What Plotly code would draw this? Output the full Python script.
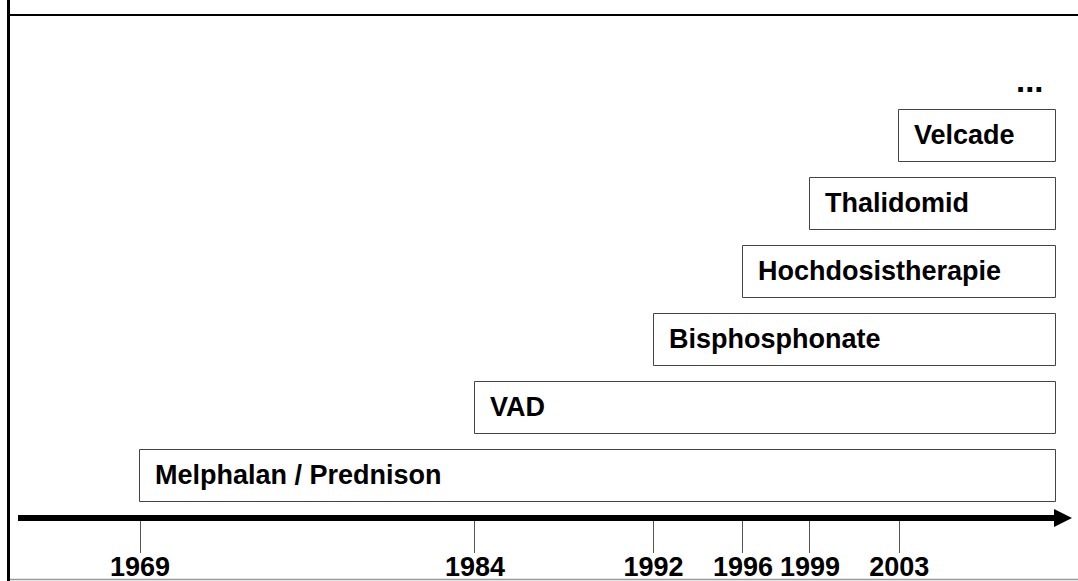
import plotly.graph_objects as go

# ---- data ----
therapies = ["Melphalan / Prednison", "VAD", "Bisphosphonate",
             "Hochdosistherapie", "Thalidomid", "Velcade"]
start_years = [1969, 1984, 1992, 1996, 1999, 2003]
end_year = 2010
tick_years = [1969, 1984, 1992, 1996, 1999, 2003]
tick_labels = [str(y) for y in tick_years]

# ---- layout geometry (pixels) ----
W, H = 1078, 581
L, R, T, B = 18, 20, 0, 66
PW, PH = W - L - R, H - T - B

def px_x(p):
    return (p - L) / PW

def px_y(p):
    return (H - B - p) / PH

FONT = "Liberation Sans Narrow, Arial Narrow, Liberation Sans, Arial, sans-serif"
FS = 27

rows = list(range(len(therapies)))
fig = go.Figure()
fig.add_trace(go.Bar(
    y=rows,
    x=[end_year - s for s in start_years],
    base=start_years,
    orientation="h",
    width=0.765,
    marker=dict(color="white", line=dict(color="#444444", width=1)),
    hoverinfo="skip",
    showlegend=False,
))

annotations = []
for name, s, r in zip(therapies, start_years, rows):
    annotations.append(dict(
        x=s, y=r, xref="x", yref="y", text=f"<b>{name}</b>",
        showarrow=False, xanchor="left", yanchor="middle", xshift=13, yshift=1,
        font=dict(family=FONT, size=FS, color="black"),
    ))
annotations.append(dict(
    x=px_x(1046), y=px_y(80), xref="paper", yref="paper", text="<b>...</b>",
    showarrow=False, xanchor="right", yanchor="middle",
    font=dict(family=FONT, size=FS + 6, color="black"),
))

shapes = [
    # left frame border
    dict(type="line", xref="paper", yref="paper", x0=px_x(8.5), x1=px_x(8.5),
         y0=px_y(H + 2), y1=px_y(-2), line=dict(color="black", width=3)),
    # top frame line
    dict(type="line", xref="paper", yref="paper", x0=px_x(8), x1=px_x(W + 2),
         y0=px_y(15), y1=px_y(15), line=dict(color="black", width=2)),
    # bottom gray line
    dict(type="line", xref="paper", yref="paper", x0=px_x(10), x1=px_x(W + 2),
         y0=px_y(579.5), y1=px_y(579.5), line=dict(color="#999999", width=1.5)),
    # arrow head
    dict(type="path", xref="paper", yref="paper",
         path=(f"M {px_x(1054)},{px_y(509)} L {px_x(1072)},{px_y(518)} "
               f"L {px_x(1054)},{px_y(527)} Z"),
         fillcolor="black", line=dict(color="black", width=0)),
]

fig.update_layout(
    width=W, height=H,
    margin=dict(l=L, r=R, t=T, b=B, pad=0),
    paper_bgcolor="white", plot_bgcolor="white",
    annotations=annotations, shapes=shapes,
    bargap=0,
    xaxis=dict(
        range=[1963.536, 2010.11],
        tickvals=tick_years, ticktext=[f"<b>{t}</b>" for t in tick_labels],
        ticks="outside", ticklen=32, tickwidth=1, tickcolor="#555555",
        ticklabelstandoff=-9,
        showline=True, linewidth=6, linecolor="black",
        showgrid=False, zeroline=False, automargin=False,
        tickfont=dict(family=FONT, size=FS, color="black"),
        fixedrange=True,
    ),
    yaxis=dict(
        range=[-0.5735, 7.0], visible=False, showgrid=False, zeroline=False,
        fixedrange=True,
    ),
)

fig.write_html(
    "out.html",
    config={"displayModeBar": False},
    post_script="document.body.style.margin='0';document.body.style.overflow='hidden';",
)
